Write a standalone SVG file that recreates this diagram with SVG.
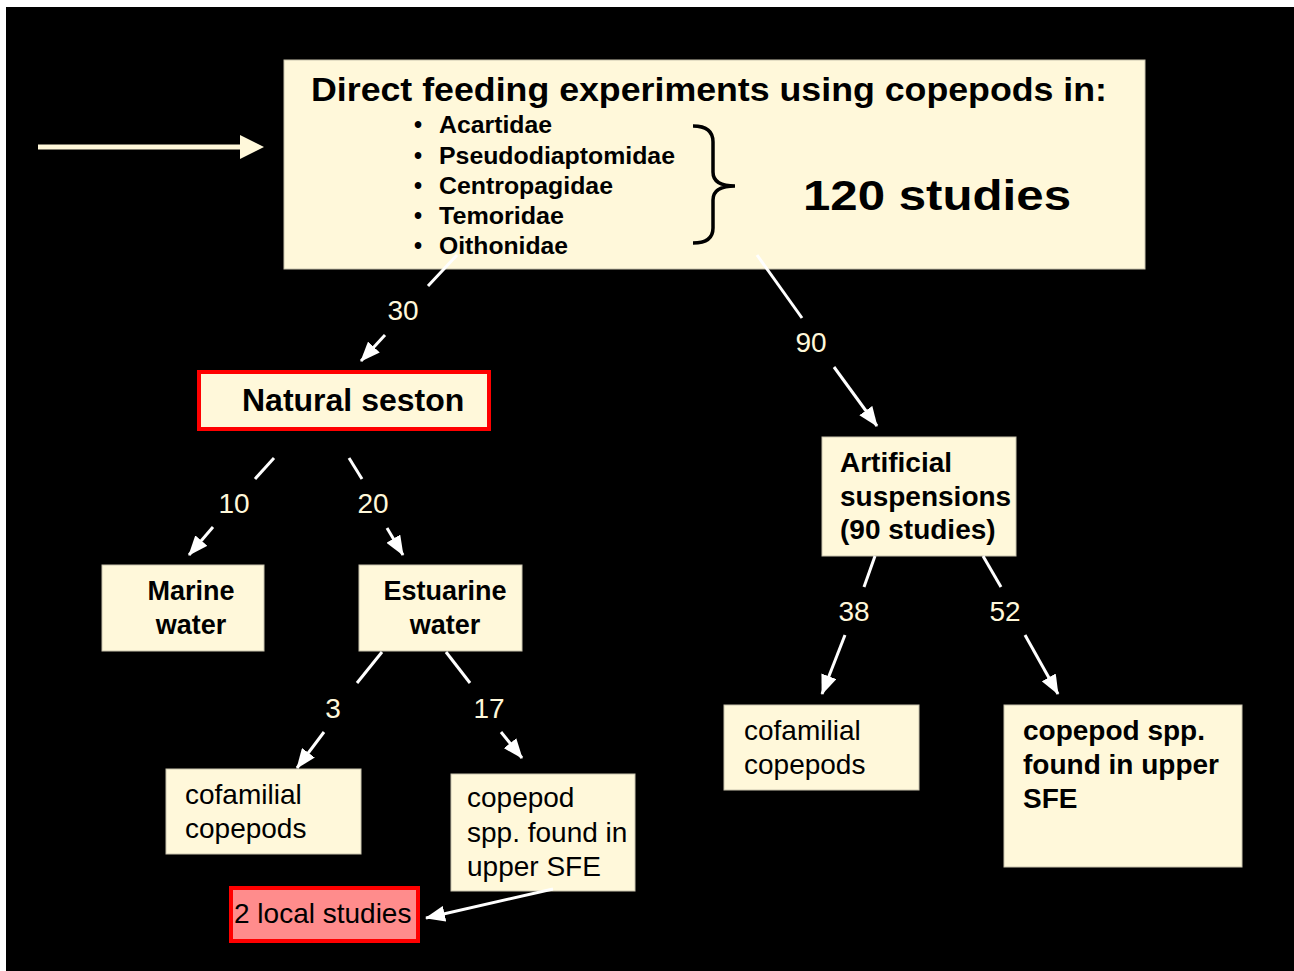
<svg xmlns="http://www.w3.org/2000/svg" width="1294" height="971" viewBox="0 0 1294 971">
  <defs>
    <marker id="head" viewBox="0 0 20 16" refX="19" refY="8" markerWidth="20" markerHeight="16" markerUnits="userSpaceOnUse" orient="auto">
      <path d="M0,0 L20,8 L0,16 Z" fill="#FFFFFF"/>
    </marker>
  </defs>
  <style>
    .box { fill: #FFF8DA; stroke: #C9C4AE; stroke-width: 1; }
    .redbox { fill: #FFF8DA; stroke: #FF0000; stroke-width: 4; }
    .pinkbox { fill: #FF8C8C; stroke: #FF0000; stroke-width: 4; }
    .b { font-family: "Liberation Sans", Arial, sans-serif; font-weight: bold; fill: #000000; }
    .r { font-family: "Liberation Sans", Arial, sans-serif; font-weight: normal; fill: #000000; }
    .num { font-family: "Liberation Sans", Arial, sans-serif; font-size: 28px; fill: #FFF8DA; text-anchor: middle; }
    .ln { stroke: #FFFFFF; stroke-width: 3; fill: none; }
    .arr { stroke: #FFFFFF; stroke-width: 3; fill: none; marker-end: url(#head); }
  </style>

  <!-- page and slide background -->
  <rect x="0" y="0" width="1294" height="971" fill="#FFFFFF"/>
  <rect x="6" y="7" width="1288" height="964" fill="#000000"/>

  <!-- pointer arrow at left -->
  <g id="pointer">
    <line x1="38" y1="147" x2="242" y2="147" stroke="#FFF8DA" stroke-width="5"/>
    <polygon points="240,135 264,147 240,159" fill="#FFF8DA"/>
  </g>

  <!-- top box: families and total -->
  <g id="direct-feeding">
    <rect class="box" x="284" y="60" width="861" height="209"/>
    <text class="b" x="311" y="101" font-size="33" textLength="796" lengthAdjust="spacingAndGlyphs">Direct feeding experiments using copepods in:</text>
    <g font-size="23" class="b">
      <text class="b" x="414" y="133">•</text>
      <text class="b" x="439" y="133" textLength="113" lengthAdjust="spacingAndGlyphs">Acartidae</text>
      <text class="b" x="414" y="164">•</text>
      <text class="b" x="439" y="164" textLength="236" lengthAdjust="spacingAndGlyphs">Pseudodiaptomidae</text>
      <text class="b" x="414" y="194">•</text>
      <text class="b" x="439" y="194" textLength="174" lengthAdjust="spacingAndGlyphs">Centropagidae</text>
      <text class="b" x="414" y="224">•</text>
      <text class="b" x="439" y="224" textLength="125" lengthAdjust="spacingAndGlyphs">Temoridae</text>
      <text class="b" x="414" y="254">•</text>
      <text class="b" x="439" y="254" textLength="129" lengthAdjust="spacingAndGlyphs">Oithonidae</text>
    </g>
    <path d="M693,126 Q713,126 713,142 L713,172 Q713,186 735,186 Q713,186 713,200 L713,228 Q713,243 693,243" fill="none" stroke="#000000" stroke-width="3.5"/>
    <text class="b" x="803" y="210" font-size="42" textLength="268" lengthAdjust="spacingAndGlyphs">120 studies</text>
  </g>

  <g id="natural-seston">
    <rect class="redbox" x="199" y="372" width="290" height="57"/>
    <text class="b" x="242" y="411" font-size="32">Natural seston</text>
  </g>

  <g id="marine-water">
    <rect class="box" x="102" y="565" width="162" height="86"/>
    <text class="b" x="191" y="600" font-size="27" text-anchor="middle">Marine</text>
    <text class="b" x="191" y="634" font-size="27" text-anchor="middle">water</text>
  </g>

  <g id="estuarine-water">
    <rect class="box" x="359" y="565" width="163" height="86"/>
    <text class="b" x="445" y="600" font-size="27" text-anchor="middle">Estuarine</text>
    <text class="b" x="445" y="634" font-size="27" text-anchor="middle">water</text>
  </g>

  <g id="estuarine-cofamilial">
    <rect class="box" x="166" y="769" width="195" height="85"/>
    <text class="r" x="185" y="804" font-size="28">cofamilial</text>
    <text class="r" x="185" y="838" font-size="28">copepods</text>
  </g>

  <g id="estuarine-upper-sfe">
    <rect class="box" x="451" y="774" width="184" height="117"/>
    <text class="r" x="467" y="807" font-size="28">copepod</text>
    <text class="r" x="467" y="842" font-size="28">spp. found in</text>
    <text class="r" x="467" y="876" font-size="28">upper SFE</text>
  </g>

  <g id="local-studies">
    <rect class="pinkbox" x="231" y="888" width="187" height="53"/>
    <text class="r" x="234" y="923" font-size="28">2 local studies</text>
  </g>

  <g id="artificial-suspensions">
    <rect class="box" x="822" y="437" width="194" height="119"/>
    <text class="b" x="840" y="472" font-size="28">Artificial</text>
    <text class="b" x="840" y="506" font-size="28">suspensions</text>
    <text class="b" x="840" y="539" font-size="28">(90 studies)</text>
  </g>

  <g id="artificial-cofamilial">
    <rect class="box" x="724" y="705" width="195" height="85"/>
    <text class="r" x="744" y="740" font-size="28">cofamilial</text>
    <text class="r" x="744" y="774" font-size="28">copepods</text>
  </g>

  <g id="artificial-upper-sfe">
    <rect class="box" x="1004" y="705" width="238" height="162"/>
    <text class="b" x="1023" y="740" font-size="28">copepod spp.</text>
    <text class="b" x="1023" y="774" font-size="28">found in upper</text>
    <text class="b" x="1023" y="808" font-size="28">SFE</text>
  </g>

  <!-- connectors: each split around its count label -->
  <g id="connectors">
    <line class="ln" x1="457" y1="255" x2="428" y2="286"/>
    <line class="arr" x1="385" y1="335" x2="361" y2="361"/>
    <text class="num" x="403" y="320">30</text>

    <line class="ln" x1="757" y1="255" x2="802" y2="318"/>
    <line class="arr" x1="834" y1="367" x2="877" y2="426"/>
    <text class="num" x="811" y="352">90</text>

    <line class="ln" x1="274" y1="458" x2="255" y2="479"/>
    <line class="arr" x1="213" y1="527" x2="189" y2="555"/>
    <text class="num" x="234" y="513">10</text>

    <line class="ln" x1="349" y1="458" x2="362" y2="479"/>
    <line class="arr" x1="387" y1="528" x2="403" y2="555"/>
    <text class="num" x="373" y="513">20</text>

    <line class="ln" x1="382" y1="652" x2="357" y2="683"/>
    <line class="arr" x1="324" y1="732" x2="297" y2="768"/>
    <text class="num" x="333" y="718">3</text>

    <line class="ln" x1="446" y1="652" x2="470" y2="683"/>
    <line class="arr" x1="501" y1="732" x2="522" y2="758"/>
    <text class="num" x="489" y="718">17</text>

    <line class="ln" x1="875" y1="556" x2="864" y2="587"/>
    <line class="arr" x1="845" y1="635" x2="822" y2="694"/>
    <text class="num" x="854" y="621">38</text>

    <line class="ln" x1="983" y1="556" x2="1001" y2="587"/>
    <line class="arr" x1="1025" y1="635" x2="1058" y2="694"/>
    <text class="num" x="1005" y="621">52</text>

    <line class="arr" x1="553" y1="889" x2="426" y2="918"/>
  </g>
</svg>
